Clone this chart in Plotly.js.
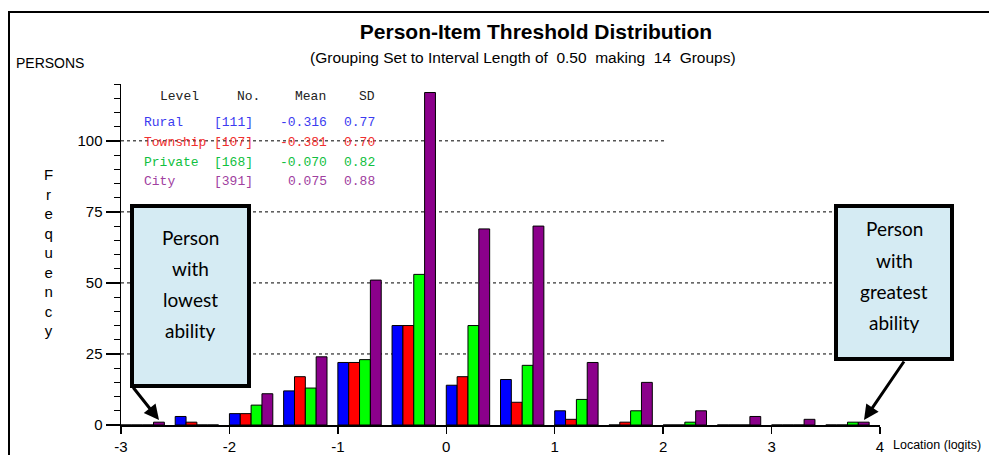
<!DOCTYPE html>
<html>
<head>
<meta charset="utf-8">
<script src="https://cdn.plot.ly/plotly-3.0.1.min.js"></script>
<style>html,body{margin:0;padding:0;background:#fff;}#chart{width:989px;height:455px;}</style>
</head>
<body>
<div id="chart"></div>
<script>
// ---- data ----
const bins = [-3, -2.5, -2, -1.5, -1, -0.5, 0, 0.5, 1, 1.5, 2, 2.5, 3, 3.5]; // lower edge of each 0.50 interval
const seriesNames = ['Rural', 'Township', 'Private', 'City'];
const rural    = [0, 3, 4, 12, 22, 35, 14, 16, 5, 0, 0, 0, 0, 0];
const township = [0, 1, 4, 17, 22, 35, 17, 8, 2, 1, 0, 0, 0, 0];
const privateS = [0, 0, 7, 13, 23, 53, 35, 21, 9, 5, 1, 0, 0, 1];
const city     = [1, 0, 11, 24, 51, 117, 69, 70, 22, 15, 5, 3, 2, 1];
const counts = ['[111]', '[107]', '[168]', '[391]'];
const means  = ['-0.316', '-0.381', '-0.070', '0.075'];
const sds    = ['0.77', '0.70', '0.82', '0.88'];
const xTicks = [-3, -2, -1, 0, 1, 2, 3, 4];
const yTicks = [0, 25, 50, 75, 100];

// ---- styles ----
const barColors = ['#0000ff', '#ff0000', '#00ff00', '#8b008b'];
const textColors = ['#3b3bf0', '#f03030', '#10c040', '#a040a0'];
const NARROW = '"Liberation Sans Narrow", "Arial Narrow", "Liberation Sans", Arial, sans-serif';
const MONO = '"Liberation Mono", "Courier New", monospace';
const BOXFONT = 'Lato, "Open Sans", sans-serif';

const W = 989, H = 455, L = 121, R = 880, T = 84, B = 425;
const px = p => (p - L) / (R - L);
const py = p => (B - p) / (B - T);

const allSeries = [rural, township, privateS, city];
const traces = allSeries.map((vals, i) => ({
  type: 'bar', name: seriesNames[i], x: bins, y: vals,
  width: 0.1, offset: i * 0.1,
  marker: {color: barColors[i], line: {color: '#000', width: 1}},
  hoverinfo: 'x+y'
}));

const shapes = [];
// dotted reference lines
[25, 50, 75].forEach(v => shapes.push({type: 'line', xref: 'paper', yref: 'y', x0: 0, x1: 1, y0: v, y1: v,
  line: {color: '#000', width: 1, dash: '3px,3px'}, layer: 'below'}));
shapes.push({type: 'line', xref: 'paper', yref: 'y', x0: 0, x1: px(667), y0: 100, y1: 100,
  line: {color: '#000', width: 1, dash: '3px,3px'}, layer: 'below'});
// outer frame
shapes.push({type: 'rect', xref: 'paper', yref: 'paper', x0: px(9), x1: px(1000), y0: py(12), y1: py(470),
  line: {color: '#000', width: 2}, fillcolor: 'rgba(0,0,0,0)', layer: 'above'});
// callout boxes
shapes.push({type: 'rect', xref: 'paper', yref: 'paper', x0: px(132), x1: px(249), y0: py(206), y1: py(386),
  line: {color: '#000', width: 4}, fillcolor: '#d5ebf3', layer: 'above'});
shapes.push({type: 'rect', xref: 'paper', yref: 'paper', x0: px(836), x1: px(952), y0: py(206), y1: py(359),
  line: {color: '#000', width: 4}, fillcolor: '#d5ebf3', layer: 'above'});

const ann = [];
const A = (text, x, y, opts) => ann.push(Object.assign({text: text, xref: 'paper', yref: 'paper', x: px(x), y: py(y),
  showarrow: false, xanchor: 'left', yanchor: 'middle', font: {family: NARROW, size: 16, color: '#000'}}, opts || {}));

A('(Grouping Set to Interval Length of&nbsp;&nbsp;0.50&nbsp;&nbsp;making&nbsp;&nbsp;14&nbsp;&nbsp;Groups)', 523, 57,
  {xanchor: 'center', font: {family: NARROW, size: 15.5, color: '#000'}});
A('PERSONS', 14, 63, {font: {family: NARROW, size: 14, color: '#000'}});
A('F<br>r<br>e<br>q<br>u<br>e<br>n<br>c<br>y', 48, 252, {xanchor: 'center', font: {family: NARROW, size: 15, color: '#000'}});
A('Location (logits)', 891, 445, {font: {family: NARROW, size: 12.5, color: '#000'}});

// stats table
const rowsY = [122, 142, 162, 181];
A('Level', 158, 97, {font: {family: MONO, size: 13, color: '#222'}});
A('No.', 262, 97, {xanchor: 'right', font: {family: MONO, size: 13, color: '#222'}});
A('Mean', 328, 97, {xanchor: 'right', font: {family: MONO, size: 13, color: '#222'}});
A('SD', 377, 97, {xanchor: 'right', font: {family: MONO, size: 13, color: '#222'}});
seriesNames.forEach((n, i) => {
  const f = {family: MONO, size: 13, color: textColors[i]};
  A(n, 142, rowsY[i], {font: f});
  A(counts[i], 255, rowsY[i], {xanchor: 'right', font: f});
  A(means[i], 329, rowsY[i], {xanchor: 'right', font: f});
  A(sds[i], 377, rowsY[i], {xanchor: 'right', font: f});
});

// callout texts
const bf = {family: BOXFONT, size: 19, color: '#000'};
['Person', 'with', 'lowest', 'ability'].forEach((t, i) => A(t, 190, 237 + i * 31, {xanchor: 'center', font: bf}));
['Person', 'with', 'greatest', 'ability'].forEach((t, i) => A(t, 894, 229 + i * 31, {xanchor: 'center', font: bf}));

// arrows
ann.push({text: '', xref: 'paper', yref: 'paper', x: px(159), y: py(420), ax: -27, ay: -34,
  showarrow: true, arrowhead: 2, arrowsize: 1, arrowwidth: 3, arrowcolor: '#000'});
ann.push({text: '', xref: 'paper', yref: 'paper', x: px(864), y: py(420), ax: 41, ay: -60,
  showarrow: true, arrowhead: 2, arrowsize: 1, arrowwidth: 3, arrowcolor: '#000'});

const layout = {
  width: W, height: H,
  margin: {l: L, r: W - R, t: T, b: H - B, pad: 0},
  paper_bgcolor: '#fff', plot_bgcolor: '#fff',
  showlegend: false,
  barmode: 'overlay',
  title: {text: '<b>Person-Item Threshold Distribution</b>', x: 536 / W, xanchor: 'center', y: 1 - 32 / H, yanchor: 'middle',
    xref: 'container', yref: 'container', font: {family: NARROW, size: 21, color: '#000'}},
  xaxis: {range: [-3, 4], tickmode: 'array', tickvals: xTicks, ticktext: xTicks.map(String),
    ticks: 'outside', ticklen: 7, tickwidth: 1.5, tickcolor: '#000', showline: true, linewidth: 2, linecolor: '#000',
    showgrid: false, zeroline: false, tickfont: {family: NARROW, size: 15, color: '#000'}, fixedrange: true},
  yaxis: {range: [0, 120], tickmode: 'array', tickvals: yTicks, ticktext: yTicks.map(String),
    ticks: 'outside', ticklen: 14, tickwidth: 1.5, tickcolor: '#000', showline: true, linewidth: 1.5, linecolor: '#000',
    minor: {tickmode: 'linear', tick0: 0, dtick: 5, ticks: 'outside', ticklen: 6, tickwidth: 1, tickcolor: '#000', showgrid: false},
    showgrid: false, zeroline: false, tickfont: {family: NARROW, size: 15, color: '#000'}, fixedrange: true},
  shapes: shapes,
  annotations: ann
};

Plotly.newPlot('chart', traces, layout, {displayModeBar: false, staticPlot: true});
</script>
</body>
</html>
